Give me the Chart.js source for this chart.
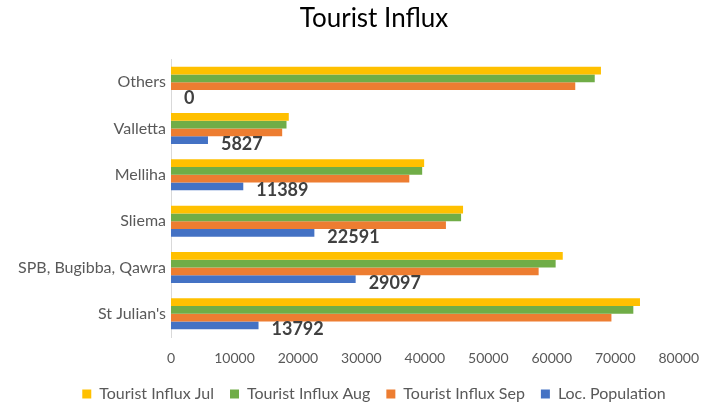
<!DOCTYPE html>
<html><head><meta charset="utf-8">
<script src="https://cdn.jsdelivr.net/npm/chart.js@4/dist/chart.umd.min.js"></script>
<style>html,body{margin:0;padding:0;background:#fff}#wrap{width:712px;height:407px}</style>
</head><body><div id="wrap"><canvas id="c" width="712" height="407"></canvas></div>
<script>
const categories = ["Others", "Valletta", "Melliha", "Sliema", "SPB, Bugibba, Qawra", "St Julian's"];
const influxJul = [67750, 18560, 39890, 46020, 61730, 73900];
const influxAug = [66770, 18200, 39580, 45710, 60610, 72850];
const influxSep = [63700, 17520, 37550, 43320, 57930, 69400];
const locPopulation = [0, 5827, 11389, 22591, 29097, 13792];
const seriesNames = ["Tourist Influx Jul", "Tourist Influx Aug", "Tourist Influx Sep", "Loc. Population"];
const xTicks = [0, 10000, 20000, 30000, 40000, 50000, 60000, 70000, 80000];

const FONT = "Lato, 'Open Sans', sans-serif";
const labelPlugin = {
  id: 'popLabels',
  afterDatasetsDraw(chart) {
    const ctx = chart.ctx;
    const meta = chart.getDatasetMeta(3);
    ctx.save();
    ctx.font = "bold 18px " + FONT;
    ctx.fillStyle = "#404040";
    ctx.textAlign = "left";
    ctx.textBaseline = "middle";
    meta.data.forEach((bar, i) => {
      ctx.fillText(String(locPopulation[i]), bar.x + 13, bar.y + 4);
    });
    ctx.restore();
  }
};
// shift title and legend boxes so they are centred like the original
const shiftPlugin = {
  id: 'shiftBlocks',
  afterLayout(chart) {
    const d = 27;
    if (chart.titleBlock) { chart.titleBlock.left += d; chart.titleBlock.right += d; }
    if (chart.legend) { chart.legend.left += d; chart.legend.right += d; }
  }
};

new Chart(document.getElementById('c'), {
  type: 'bar',
  data: {
    labels: categories,
    datasets: [
      {label: seriesNames[0], data: influxJul, backgroundColor: '#FFC000'},
      {label: seriesNames[1], data: influxAug, backgroundColor: '#70AD47'},
      {label: seriesNames[2], data: influxSep, backgroundColor: '#ED7D31'},
      {label: seriesNames[3], data: locPopulation, backgroundColor: '#4472C4'}
    ]
  },
  options: {
    indexAxis: 'y',
    responsive: false,
    animation: false,
    devicePixelRatio: 1,
    layout: {padding: {left: 10, right: 28, top: 0, bottom: -5}},
    datasets: {bar: {barPercentage: 1.0, categoryPercentage: 0.67, borderWidth: 0}},
    scales: {
      x: {
        min: 0, max: 80000,
        afterBuildTicks(s) { s.ticks = xTicks.map(v => ({value: v})); },
        grid: {display: false, drawTicks: false},
        border: {display: false},
        ticks: {color: '#595959', font: {family: FONT, size: 14}, padding: 13, maxRotation: 0,
                callback: (v) => String(v)},
        afterFit(s) { s.height = 33; }
      },
      y: {
        grid: {display: false, drawTicks: false},
        border: {display: true, color: '#d9d9d9', width: 1},
        ticks: {color: '#595959', font: {family: FONT, size: 16}, padding: 5},
        afterFit(s) { s.width = 161; }
      }
    },
    plugins: {
      title: {display: true, text: 'Tourist Influx', color: '#000000', font: {family: FONT, size: 26, weight: 'normal'}, padding: {top: 3.4, bottom: 24.4}},
      legend: {position: 'bottom', labels: {color: '#595959', font: {family: FONT, size: 16}, boxWidth: 9, boxHeight: 9, padding: 16}},
      tooltip: {enabled: false}
    }
  },
  plugins: [labelPlugin, shiftPlugin]
});
</script></body></html>
